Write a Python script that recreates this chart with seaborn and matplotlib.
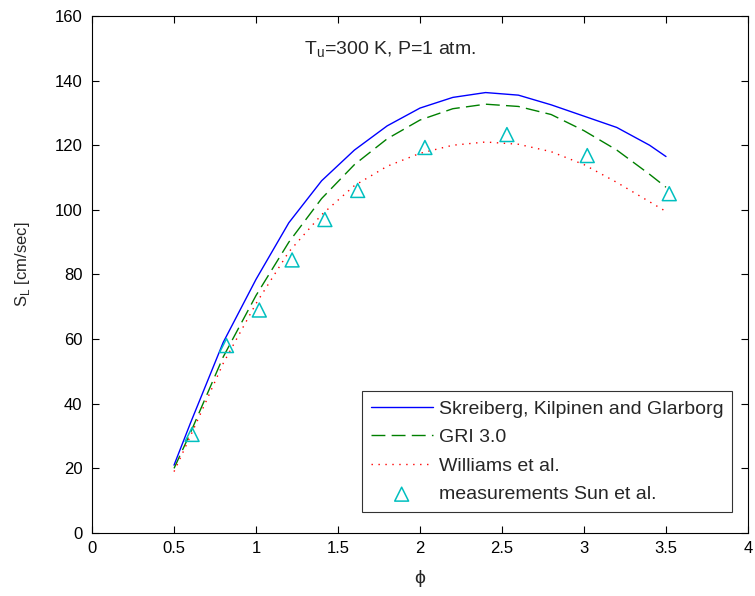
import numpy as np
import pandas as pd
import matplotlib
matplotlib.use("Agg")
import matplotlib.pyplot as plt
import seaborn as sns

phi = [0.5, 0.6, 0.8, 1.0, 1.2, 1.4, 1.6, 1.8, 2.0, 2.2, 2.4, 2.6, 2.8, 3.0, 3.2, 3.4, 3.5]
sl_skreiberg = [21, 34, 59, 78.5, 96, 109, 118.5, 126, 131.5, 134.8, 136.3, 135.5, 132.5, 129, 125.5, 120, 116.5]
sl_gri = [20, 31, 54.5, 73.5, 90, 103.5, 114, 122, 127.8, 131.3, 132.7, 132, 129.5, 124.5, 118.5, 111, 107]
sl_williams = [19, 30, 52.5, 71, 87, 98.5, 107.5, 113.5, 117.5, 120, 121, 120.3, 118, 114, 108.5, 102.5, 99.5]
phi_meas = [0.61, 0.82, 1.02, 1.22, 1.42, 1.62, 2.03, 2.53, 3.02, 3.52]
sl_meas = [30.5, 58, 69, 84.5, 97, 106, 119.3, 123.3, 116.8, 105]

sns.set_theme(style="white")
plt.rcParams['font.family'] = ['Liberation Sans', 'DejaVu Sans']
plt.rcParams['xtick.direction'] = 'in'
plt.rcParams['ytick.direction'] = 'in'

fig = plt.figure(figsize=(7.55, 5.96), dpi=100)
ax = fig.add_axes([0.1219, 0.1057, 0.8688, 0.8675])

sns.lineplot(x=phi, y=sl_skreiberg, ax=ax, color='#0000ff', lw=1.0,
             label='Skreiberg, Kilpinen and Glarborg')
sns.lineplot(x=phi, y=sl_gri, ax=ax, color='#008000', lw=1.0,
             label='GRI 3.0')
ax.lines[-1].set_linestyle((0, (10, 4.5)))
sns.lineplot(x=phi, y=sl_williams, ax=ax, color='#ff0000', lw=1.0,
             label='Williams et al.')
ax.lines[-1].set_linestyle((0, (1, 4)))
sns.scatterplot(x=phi_meas, y=sl_meas, ax=ax, marker='^', s=100,
                facecolor='none', edgecolor='#00bfbf', linewidth=1.1,
                label='measurements Sun et al.', zorder=5)

ax.set_xlim(0, 4)
ax.set_ylim(0, 160)
ax.set_xticks(np.arange(0, 4.01, 0.5))
ax.set_xticklabels(['0', '0.5', '1', '1.5', '2', '2.5', '3', '3.5', '4'])
ax.set_yticks(np.arange(0, 161, 20))
ax.tick_params(axis='both', labelsize=12, length=5, width=0.8, colors='black',
               top=True, right=True, bottom=True, left=True)
ax.tick_params(axis='x', pad=6)
ax.tick_params(axis='y', pad=7)
for s in ax.spines.values():
    s.set_color('black')
    s.set_linewidth(0.8)

ax.set_xlabel('ϕ', fontsize=14, labelpad=10)
ax.set_ylabel('S$_\\mathregular{L}$ [cm/sec]', fontsize=12)
ax.yaxis.set_label_coords(-0.091, 0.52)
ax.text(1.29, 149.5, 'T$_\\mathregular{u}$=300 K, P=1 atm.', fontsize=14, va='center', ha='left')

leg = ax.legend(loc='lower right', bbox_to_anchor=(0.9756, 0.0406), borderaxespad=0,
                fontsize=14, frameon=True, fancybox=False,
                edgecolor='black', handlelength=3.2, handletextpad=0.3,
                labelspacing=0.56, borderpad=0.45)
leg.get_frame().set_linewidth(0.8)

fig.savefig('out.png', dpi=100)
